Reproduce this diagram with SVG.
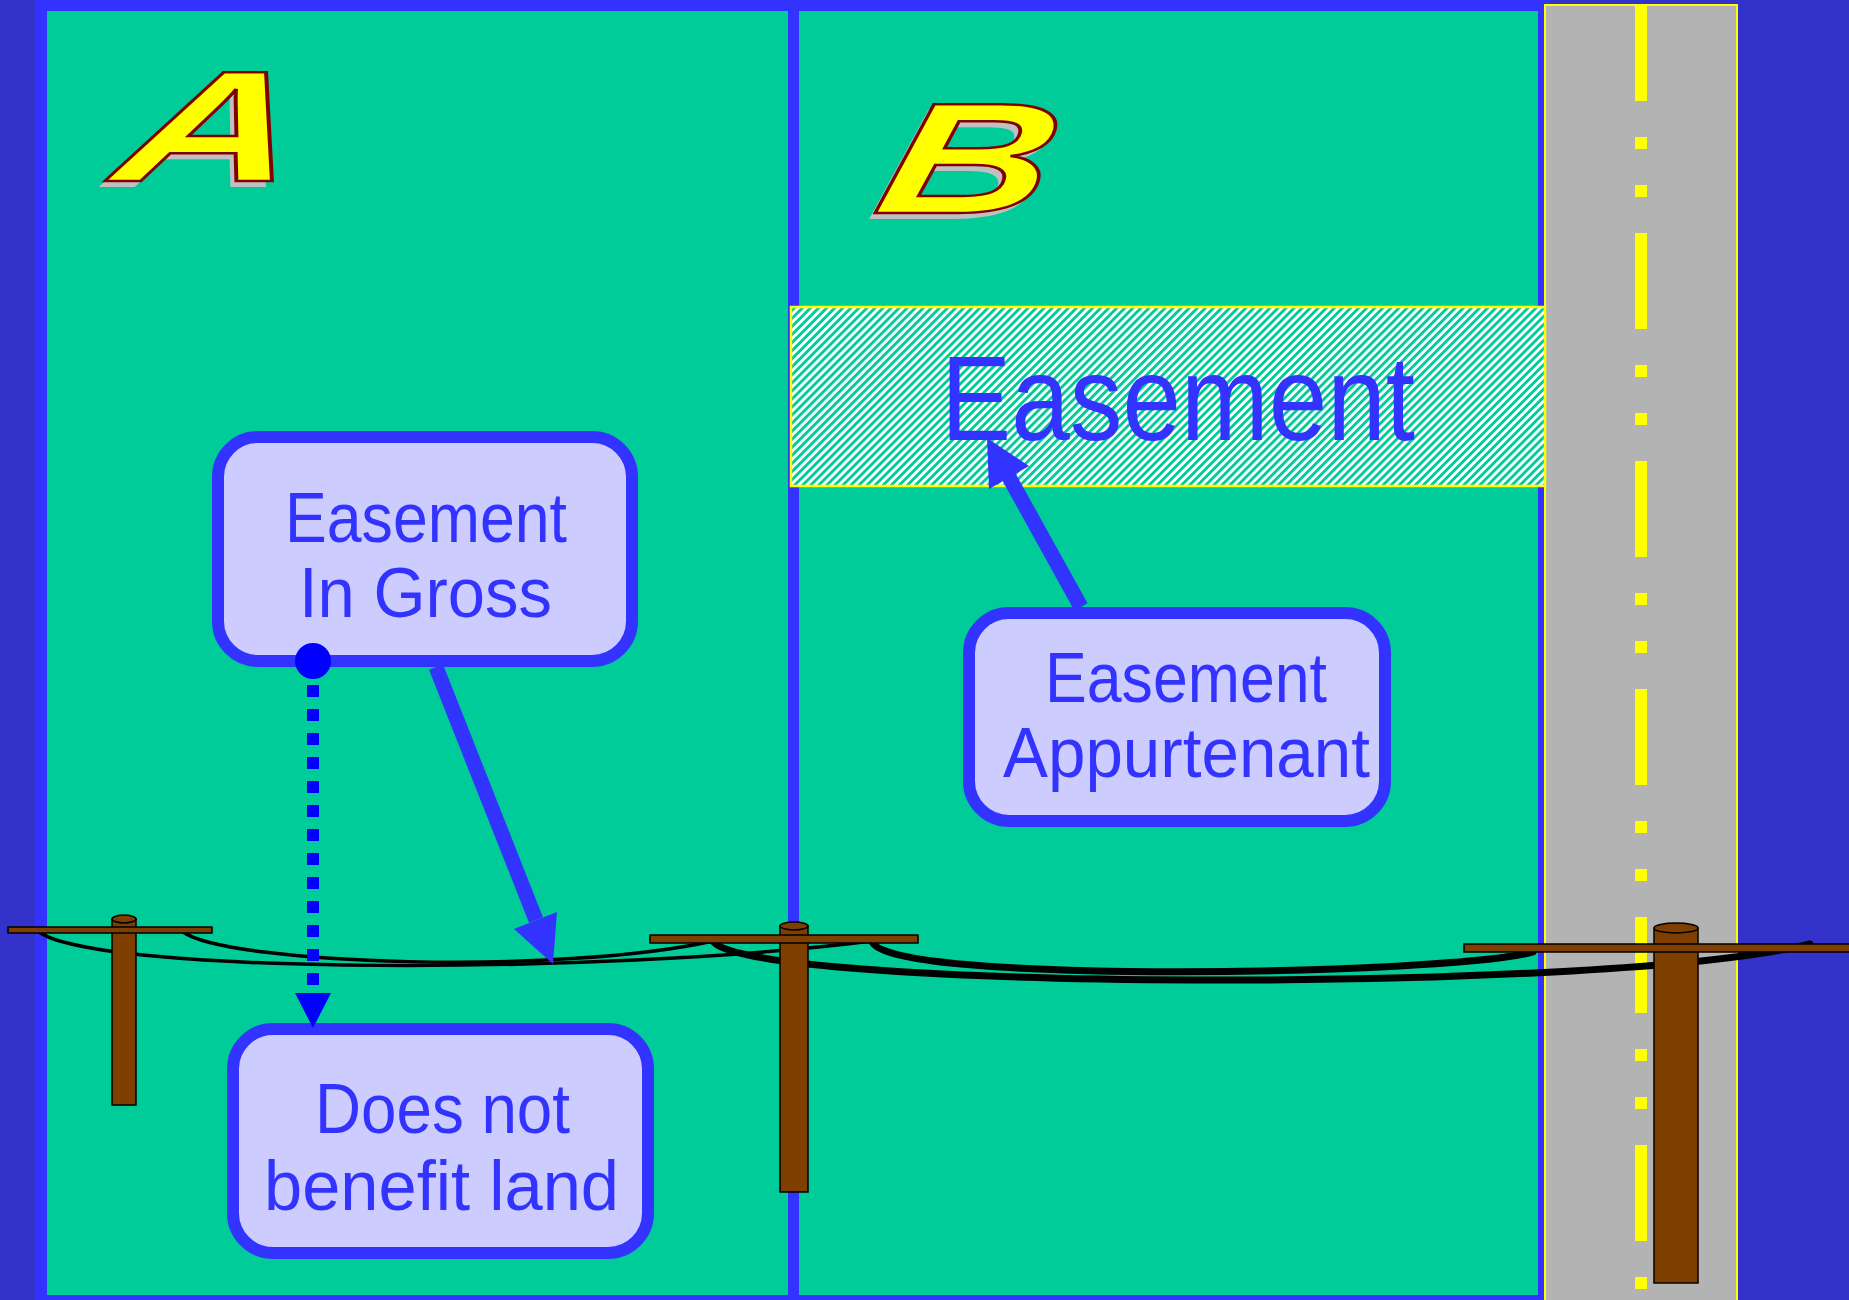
<svg xmlns="http://www.w3.org/2000/svg" width="1849" height="1300" viewBox="0 0 1849 1300">
<defs>
<style>
.box{fill:#CCCCFF;stroke:#3333FF;stroke-width:12}
.lbl{font-family:"Liberation Sans","DejaVu Sans",sans-serif;font-size:70px;fill:#3333FF}
.big{font-size:120px}
.pole{fill:#7F3F00;stroke:#000000;stroke-width:1.5}
.wire{fill:none;stroke:#000000;stroke-linecap:round}
.thin{stroke-width:3.5}
.thick{stroke-width:7}
.letter{font-family:"Liberation Sans","DejaVu Sans",sans-serif;font-weight:bold;font-style:italic;font-size:158px}
.lf{fill:#FFFF00;stroke:#800000;stroke-width:2.5}
.ls{fill:#C0C0C0}
.shaft{stroke:#3333FF;stroke-width:15;fill:none}
.head{fill:#3333FF}
.dot{fill:#0000FF}
</style>
<pattern id="hatch" patternUnits="userSpaceOnUse" width="5.7" height="5.7" patternTransform="rotate(45)">
<rect width="5.7" height="5.7" fill="#00CC99"/>
<rect width="2.85" height="5.7" fill="#FFFFFF"/>
</pattern>
</defs>

<g id="background">
<rect x="0" y="0" width="1849" height="1300" fill="#3333CC"/>
<rect x="35" y="0" width="1515" height="1300" fill="#3333FF"/>
<rect x="47" y="11" width="1491" height="1284" fill="#00CC99"/>
<rect x="788" y="0" width="11" height="1300" fill="#3333FF"/>
</g>

<g id="road">
<rect x="1545" y="5" width="192" height="1300" fill="#B3B3B3" stroke="#FFFF00" stroke-width="2"/>
<line x1="1641" y1="5" x2="1641" y2="1300" stroke="#FFFF00" stroke-width="12" stroke-dasharray="96 36 12 36 12 36"/>
</g>

<g id="easement-strip">
<rect x="791" y="307" width="754" height="179" fill="url(#hatch)" stroke="#FFFF00" stroke-width="2.5"/>
<text class="lbl big" x="941" y="440" textLength="474" lengthAdjust="spacingAndGlyphs">Easement</text>
</g>

<g id="letter-A">
<text class="letter ls" transform="translate(104,187) skewX(-12)" textLength="180" lengthAdjust="spacingAndGlyphs">A</text>
<text class="letter lf" transform="translate(110,181) skewX(-12)" textLength="180" lengthAdjust="spacingAndGlyphs">A</text>
</g>
<g id="letter-B">
<text class="letter ls" transform="translate(865,219) skewX(-14)" textLength="172" lengthAdjust="spacingAndGlyphs">B</text>
<text class="letter lf" transform="translate(871,213) skewX(-14)" textLength="172" lengthAdjust="spacingAndGlyphs">B</text>
</g>

<g id="wires">
<path class="wire thin" d="M39,932 C100,975 600,975 872,941"/>
<path class="wire thin" d="M183,932 C230,965 560,975 713,941"/>
<path class="wire thick" d="M713,941 C740,990 1600,995 1810,944"/>
<path class="wire thick" d="M872,941 C880,985 1450,975 1533,952"/>
</g>

<g id="pole-left">
<rect class="pole" x="112" y="919" width="24" height="186"/>
<ellipse class="pole" cx="124" cy="919" rx="12" ry="4"/>
<rect class="pole" x="8" y="927" width="204" height="6"/>
</g>
<g id="pole-middle">
<rect class="pole" x="780" y="926" width="28" height="266"/>
<ellipse class="pole" cx="794" cy="926" rx="14" ry="4"/>
<rect class="pole" x="650" y="935" width="268" height="8"/>
</g>
<g id="pole-right">
<rect class="pole" x="1654" y="928" width="44" height="355"/>
<ellipse class="pole" cx="1676" cy="928" rx="22" ry="5"/>
<rect class="pole" x="1464" y="944" width="390" height="8"/>
</g>

<g id="node-in-gross">
<rect class="box" x="218" y="437" width="414" height="224" rx="40" ry="40"/>
<text class="lbl" x="285" y="542" textLength="282" lengthAdjust="spacingAndGlyphs">Easement</text>
<text class="lbl" x="299" y="617" textLength="253" lengthAdjust="spacingAndGlyphs">In Gross</text>
</g>

<g id="node-appurtenant">
<rect class="box" x="969" y="613" width="416" height="208" rx="40" ry="40"/>
<text class="lbl" x="1045" y="702" textLength="282" lengthAdjust="spacingAndGlyphs">Easement</text>
<text class="lbl" x="1003" y="777" textLength="367" lengthAdjust="spacingAndGlyphs">Appurtenant</text>
</g>

<g id="node-not-benefit">
<rect class="box" x="233" y="1029" width="415" height="224" rx="40" ry="40"/>
<text class="lbl" x="315" y="1133" textLength="255" lengthAdjust="spacingAndGlyphs">Does not</text>
<text class="lbl" x="264" y="1210" textLength="355" lengthAdjust="spacingAndGlyphs">benefit land</text>
</g>

<g id="connectors">
<line class="shaft" x1="436" y1="667" x2="536" y2="920"/>
<polygon class="head" points="553,964 557,912 514,929"/>
<line class="shaft" x1="1081" y1="607" x2="1009" y2="477"/>
<polygon class="head" points="987,438 1029,466 989,489"/>
<circle class="dot" cx="313" cy="661" r="18"/>
<line x1="313" y1="685" x2="313" y2="985" stroke="#0000FF" stroke-width="12" stroke-dasharray="12 12"/>
<polygon class="dot" points="295,993 331,993 313,1028"/>
</g>
</svg>
